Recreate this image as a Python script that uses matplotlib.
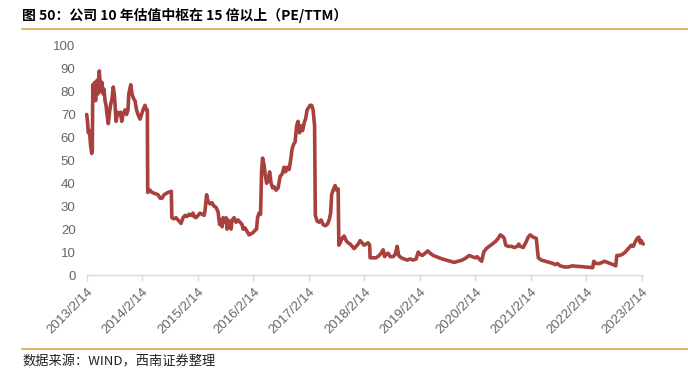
import matplotlib
matplotlib.use("Agg")
import matplotlib.pyplot as plt
from matplotlib.lines import Line2D

plt.rcParams['font.family'] = ['Liberation Sans', 'Noto Sans CJK SC', 'DejaVu Sans']

title_text = "图 50：公司 10 年估值中枢在 15 倍以上（PE/TTM）"
source_text = "数据来源：WIND，西南证券整理"
tick_labels = ["2013/2/14", "2014/2/14", "2015/2/14", "2016/2/14", "2017/2/14", "2018/2/14",
               "2019/2/14", "2020/2/14", "2021/2/14", "2022/2/14", "2023/2/14"]
y_ticks = [0, 10, 20, 30, 40, 50, 60, 70, 80, 90, 100]

# years elapsed since 2013/2/14
years = [0.000, 0.014, 0.029, 0.050, 0.068, 0.090, 0.101, 0.110, 0.123, 0.141, 0.159, 0.177, 0.189,
         0.204, 0.227, 0.245, 0.258, 0.276, 0.294, 0.312, 0.330, 0.348, 0.366, 0.389, 0.411, 0.429,
         0.456, 0.479, 0.501, 0.528, 0.555, 0.582, 0.609, 0.631, 0.654, 0.690, 0.717, 0.744, 0.758,
         0.793, 0.816, 0.843, 0.870, 0.897, 0.924, 0.960, 0.987, 1.014, 1.050, 1.077, 1.092, 1.099,
         1.141, 1.177, 1.231, 1.285, 1.321, 1.357, 1.393, 1.429, 1.465, 1.524, 1.533, 1.573, 1.609,
         1.645, 1.681, 1.699, 1.735, 1.771, 1.807, 1.843, 1.879, 1.915, 1.933, 1.969, 2.005, 2.041,
         2.077, 2.113, 2.131, 2.159, 2.186, 2.222, 2.258, 2.294, 2.330, 2.366, 2.393, 2.420, 2.438,
         2.456, 2.492, 2.510, 2.528, 2.546, 2.582, 2.600, 2.618, 2.654, 2.690, 2.726, 2.762, 2.798,
         2.816, 2.852, 2.888, 2.924, 2.960, 2.996, 3.032, 3.059, 3.077, 3.104, 3.131, 3.149, 3.167,
         3.194, 3.213, 3.240, 3.267, 3.294, 3.321, 3.348, 3.375, 3.411, 3.447, 3.483, 3.519, 3.555,
         3.582, 3.609, 3.645, 3.672, 3.699, 3.726, 3.753, 3.780, 3.806, 3.833, 3.860, 3.887, 3.924,
         3.942, 3.969, 3.996, 4.023, 4.050, 4.077, 4.104, 4.117, 4.150, 4.186, 4.222, 4.258, 4.294,
         4.330, 4.366, 4.393, 4.411, 4.438, 4.474, 4.501, 4.528, 4.541, 4.564, 4.600, 4.636, 4.672,
         4.708, 4.744, 4.780, 4.816, 4.852, 4.888, 4.924, 4.960, 4.996, 5.032, 5.068, 5.095, 5.104,
         5.158, 5.212, 5.266, 5.302, 5.338, 5.365, 5.392, 5.429, 5.465, 5.519, 5.555, 5.591, 5.618,
         5.663, 5.717, 5.771, 5.825, 5.879, 5.933, 5.969, 6.005, 6.041, 6.095, 6.140, 6.186, 6.240,
         6.294, 6.348, 6.402, 6.474, 6.546, 6.618, 6.690, 6.762, 6.834, 6.888, 6.942, 6.996, 7.032,
         7.068, 7.113, 7.150, 7.195, 7.249, 7.303, 7.357, 7.411, 7.447, 7.483, 7.519, 7.546, 7.592,
         7.646, 7.700, 7.754, 7.780, 7.807, 7.861, 7.915, 7.951, 7.987, 8.041, 8.096, 8.132, 8.186,
         8.258, 8.330, 8.402, 8.438, 8.474, 8.528, 8.600, 8.672, 8.744, 8.816, 8.888, 8.978, 9.050,
         9.113, 9.131, 9.176, 9.231, 9.285, 9.321, 9.375, 9.429, 9.483, 9.528, 9.546, 9.591, 9.645,
         9.699, 9.735, 9.771, 9.807, 9.843, 9.879, 9.915, 9.942, 9.969, 9.987, 10.005, 10.023]

pe_ttm = [70, 67, 62, 63, 57, 53, 55, 83, 77, 84, 76, 81, 85,
          79, 89, 82, 80, 84, 79, 81, 76, 74, 70, 66, 71, 74,
          77, 82, 78, 67, 71, 70, 71, 67, 70, 72, 70, 72, 79,
          83, 79, 77, 76, 72, 70, 68, 70, 72, 74, 72, 72, 36,
          37, 36, 35.5, 35, 33.5, 33.5, 35, 35.5, 36, 36.5, 25, 24.5, 25,
          24, 23, 22.5, 25, 26, 25.5, 26.5, 26, 27, 25.5, 25, 26, 27,
          26.5, 26, 28, 35, 32, 31, 31.5, 30, 29.5, 27.5, 22, 24, 21,
          25, 23, 25, 20, 24, 22, 20, 24, 25, 23, 24, 23, 22,
          20, 20.5, 19, 17.5, 18, 18.5, 19.5, 20, 25, 27, 26.5, 45, 51,
          48, 44, 40, 41, 45, 40, 38, 38.5, 37, 38, 43, 44, 47,
          45, 47, 46, 50, 55, 57, 58, 65, 67, 62, 65, 63, 67,
          68, 72, 73, 74, 74, 72, 65, 26, 23.5, 23, 24, 22, 21.5,
          22, 24, 27, 35, 37, 39, 37, 37.5, 13, 14, 16, 17, 15,
          14, 13.5, 12.5, 11.5, 12.5, 13.5, 15, 14, 13, 13.5, 14, 13, 7.5,
          7.5, 7.5, 8.5, 9.5, 11, 8, 9, 9.5, 8, 8, 9, 12.5, 8.5,
          7.5, 7, 6.5, 7, 6.5, 7, 10, 9, 8.5, 9.5, 10.5, 9.5, 8.5,
          8, 7.5, 7, 6.5, 6, 5.5, 6, 6.5, 7.5, 8.5, 8, 7.5, 8,
          7, 6, 10, 11.5, 12.5, 13.5, 14.5, 16, 17.5, 17, 16, 13, 12.5,
          12.5, 12, 12.5, 13.5, 12.5, 12, 14.5, 16.5, 17.5, 16.5, 16, 7.5, 6.5,
          6, 5.5, 5, 4.5, 5, 4, 3.5, 3.5, 4, 3.8, 3.7, 3.5, 3.3,
          3.2, 6, 5, 5, 5.5, 6, 5.5, 5, 4.5, 4, 8.5, 8.5, 9,
          10, 11, 12, 13, 12.5, 14.5, 16, 16.5, 14, 15, 14, 13.5]

W, H = 688, 369
fig = plt.figure(figsize=(W / 100, H / 100), dpi=100)
fig.patch.set_facecolor('white')

ax = fig.add_axes([86.7 / W, 1 - 275 / H, (642 - 86.7) / W, (275 - 45.7) / H])
ax.plot(years, pe_ttm, color='#A8413D', lw=2.6, solid_joinstyle='round', solid_capstyle='round',
        clip_on=False)
ax.set_xlim(0, 10)
ax.set_ylim(0, 100)
ax.set_yticks(y_ticks)
ax.set_yticklabels([str(v) for v in y_ticks], fontsize=9.5, color='#666666')
ax.set_xticks(range(len(tick_labels)))
ax.set_xticklabels(tick_labels, fontsize=9.5, color='#666666', rotation=45,
                   ha='right', va='top', rotation_mode='anchor')
for s in ['top', 'right', 'left']:
    ax.spines[s].set_visible(False)
ax.spines['bottom'].set_color('#D9D9D9')
ax.spines['bottom'].set_linewidth(1.0)
ax.tick_params(axis='y', length=0, pad=8)
ax.tick_params(axis='x', length=4, color='#D9D9D9', width=1.0, pad=4)

fig.text(22 / W, 1 - 15 / H, title_text, fontsize=10, fontweight='bold',
         family=['Noto Sans CJK SC', 'Liberation Sans'], va='center', ha='left', color='black')
fig.add_artist(Line2D([22 / W, 1.0], [1 - 28.5 / H, 1 - 28.5 / H], color='#E0A045', lw=1.2))
fig.add_artist(Line2D([22 / W, 1.0], [1 - 349 / H, 1 - 349 / H], color='#E0A045', lw=1.2))
fig.text(22 / W, 1 - 362 / H, source_text, fontsize=9.5, style='italic',
         family=['Noto Sans CJK SC', 'Liberation Sans'], va='center', ha='left', color='#222222')

fig.savefig('out.png', dpi=100, facecolor='white')
